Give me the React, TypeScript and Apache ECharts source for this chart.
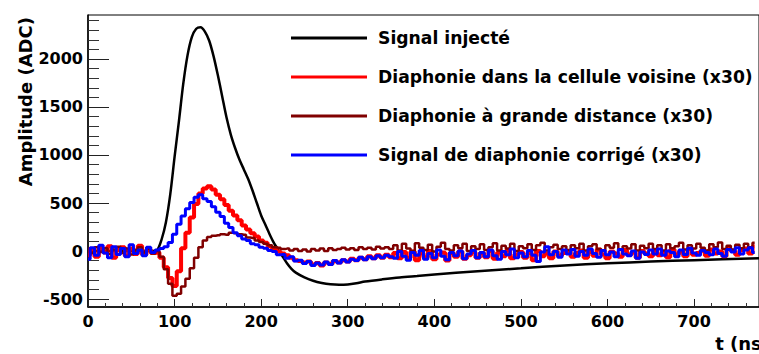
import React, { useEffect, useRef } from "react";
import * as echarts from "echarts";

// ---- data ----
const seriesNames = [
  "Signal injecté",
  "Diaphonie dans la cellule voisine (x30)",
  "Diaphonie à grande distance (x30)",
  "Signal de diaphonie corrigé (x30)",
];

// Injected signal: sample time (ns) and amplitude (ADC)
const blackT = [0, 20, 40, 60, 75, 80, 85, 90, 95, 100, 105, 110, 115, 120, 125, 130, 135, 140, 145, 150, 155, 160, 165, 170, 175, 180, 185, 190, 195, 200, 205, 210, 215, 220, 225, 230, 235, 240, 250, 260, 270, 280, 290, 300, 310, 320, 340, 360, 380, 400, 450, 500, 550, 600, 650, 700, 775];
const blackV = [0, 0, 0, 0, 0, 10, 120, 300, 590, 980, 1350, 1740, 2040, 2230, 2315, 2330, 2285, 2190, 2030, 1830, 1610, 1390, 1210, 1070, 950, 850, 750, 630, 500, 370, 270, 170, 80, 10, -60, -130, -185, -225, -275, -310, -333, -347, -352, -348, -335, -318, -295, -275, -260, -245, -210, -180, -150, -128, -110, -95, -75];

// Noisy series sampled every 5 ns starting at t = 0
const sampleStepNs = 5;
const redV = [
  -45, 20, -60, 35, -15, 50, -70, 10, 40, -50, 25, -30, 55, -40, 15, -20,
  -15, -70, -170, -280, -365, -210, 30, 190, 350, 490, 600, 650, 675, 640, 585, 540, 480, 420, 370, 320, 265, 225, 185, 150, 110, 85, 50, 25, -5, -25, -45, -70, -95, -105, -120, -110, -140, -125, -150, -120, -135, -105, -120, -95, -110, -80, -95, -70, -85, -55, -75, -45, -70, -40, -65,
  -20, -75, -10, -70, -5, -95, -25, -65, 0, -85, -35, -15, -100, -20, -60, -5, -80, -45, -10, -70,
  -20, -65, 0, -80, -15, -55, 5, -75, -35, -10, -70, -20, -95, 0, -55, -25, -75, -5, -50, -20,
  0, -60, -20, 5, -70, -10, -50, 15, -35, -75, -5, -25, -60, 10, -40, -15, -70, 0, -25, -55,
  5, -45, -10, -65, 15, -35, -5, -55, 20, -40, -20, 5, -50, 15, -25, -5, -55, 20, 0, -40,
  10, 25, -25, 50,
];
const darkRedV = [
  25, -20, 40, -10, 30, -30, 15, 45, -20, 25, -35, 10, 40, -15, 20, -25,
  0, -60, -190, -340, -465, -445, -370, -290, -180, -70, 40, 110, 145, 160, 165, 175, 170, 190, 185, 175, 170, 140, 135, 110, 95, 75, 60, 40, 35, 20, 25, 5, 20, 0, 15, -5, 20, 5, 25, 0, 30, 10, 20, 35, 15, 30, 10, 40, 20, 35, 15, 45, 25, 40, 20,
  60, 5, 75, 25, 0, 80, 35, 10, 65, -5, 45, 85, 20, 5, 60, 30, 75, 0, 50, 20,
  70, 10, 40, 80, 5, 55, 25, 75, 0, 50, 30, 70, 10, 60, 85, 5, 40, 65, 20, 50,
  10, 60, 30, 75, 5, 50, 70, 20, 0, 60, 35, 80, 15, 50, 25, 70, 5, 55, 30, 75,
  20, 60, 5, 70, 30, 50, 85, 15, 60, 25, 75, 35, 5, 70, 40, 90, 20, 55, 15, 65,
  30, 75, 40, 85,
];
const blueV = [
  -85, 35, -45, 60, -20, -70, 45, -35, 25, -60, 65, -25, 10, -50, 40, -15,
  10, 25, 45, 90, 175, 280, 365, 440, 505, 560, 585, 545, 515, 460, 405, 360, 290, 245, 190, 160, 125, 110, 75, 65, 40, 30, 5, -5, -40, -35, -75, -60, -105, -95, -130, -110, -150, -125, -145, -115, -140, -100, -125, -90, -115, -85, -100, -65, -90, -60, -80, -50, -70, -45, -60,
  -75, -5, -55, -95, -15, -45, 5, -85, -25, -70, 10, -55, -90, -15, -50, 0, -80, -30, 5, -70,
  -15, -60, 10, -50, -85, -5, -40, 20, -70, -20, -60, 5, -45, -110, -10, 45, -40, -5, -65, 10,
  -30, 15, -55, -5, -45, 20, -25, -65, 5, -40, -10, -60, 15, -30, -50, 0, -75, -10, -35, 10,
  -30, 20, -45, 0, -15, -60, 10, -35, 30, -20, -45, 5, -15, -40, 20, -25, -55, 15, -10, 35,
  -30, 10, 35, -15,
];

// Axis ticks
const xMajorTicks = [0, 100, 200, 300, 400, 500, 600, 700];
const xMinorTicks = [20, 40, 60, 80, 120, 140, 160, 180, 220, 240, 260, 280, 320, 340, 360, 380, 420, 440, 460, 480, 520, 540, 560, 580, 620, 640, 660, 680, 720, 740, 760];
const yMajorTicks = [-500, 0, 500, 1000, 1500, 2000];
const yMinorTicks = [-400, -300, -200, -100, 100, 200, 300, 400, 600, 700, 800, 900, 1100, 1200, 1300, 1400, 1600, 1700, 1800, 1900, 2100, 2200, 2300, 2400];
const xRange = [0, 775];
const yRange = [-583, 2458];

const FONT = "DejaVu Sans";

export default function App() {
  const ref = useRef<HTMLDivElement>(null);
  useEffect(() => {
    if (!ref.current) return;
    const chart = echarts.init(ref.current, undefined, { renderer: "svg" });
    const toPairs = (vals: number[]) => vals.map((v, i) => [i * sampleStepNs, v]);
    const labelStyle = {
      fontFamily: FONT, fontWeight: "bold" as const, fontSize: 16, color: "#000",
      formatter: (v: number) => String(v),
    };
    const colors = ["#000000", "#ff0000", "#800000", "#0000ff"];
    chart.setOption({
      animation: false,
      backgroundColor: "#fff",
      grid: { left: 88, top: 15, bottom: 47, right: -19, show: true, borderColor: "#000", borderWidth: 1 },
      xAxis: [
        {
          type: "value", min: xRange[0], max: xRange[1], position: "bottom",
          axisLine: { show: true, onZero: false, lineStyle: { color: "#000", width: 1.5 } },
          axisTick: { show: true, inside: true, length: 8, customValues: xMajorTicks, lineStyle: { color: "#222", width: 1 } },
          axisLabel: { customValues: xMajorTicks, margin: 6, ...labelStyle },
          splitLine: { show: false },
        },
        {
          type: "value", min: xRange[0], max: xRange[1], position: "bottom",
          axisLine: { show: false, onZero: false },
          axisTick: { show: true, inside: true, length: 4, customValues: xMinorTicks, lineStyle: { color: "#333", width: 1 } },
          axisLabel: { show: false },
          splitLine: { show: false },
        },
      ],
      yAxis: [
        {
          type: "value", min: yRange[0], max: yRange[1], position: "left",
          axisLine: { show: true, onZero: false, lineStyle: { color: "#000", width: 1.5 } },
          axisTick: { show: true, inside: true, length: 21, customValues: yMajorTicks, lineStyle: { color: "#222", width: 1 } },
          axisLabel: { customValues: yMajorTicks, margin: 5, ...labelStyle },
          splitLine: { show: false },
        },
        {
          type: "value", min: yRange[0], max: yRange[1], position: "left",
          axisLine: { show: false, onZero: false },
          axisTick: { show: true, inside: true, length: 11, customValues: yMinorTicks, lineStyle: { color: "#333", width: 1 } },
          axisLabel: { show: false },
          splitLine: { show: false },
        },
      ],
      legend: {
        orient: "vertical", left: 286, top: 23, itemWidth: 76, itemHeight: 3, itemGap: 19,
        icon: "rect",
        textStyle: { fontFamily: FONT, fontWeight: "bold", fontSize: 17.2, color: "#000", lineHeight: 20, padding: [0, 0, 0, 6] },
        data: seriesNames,
      },
      graphic: [
        {
          type: "text", x: 25, y: 17, rotation: Math.PI / 2,
          style: { text: "Amplitude (ADC)", align: "right", verticalAlign: "middle", fontFamily: FONT, fontWeight: "bold", fontSize: 18, fill: "#000" },
        },
        {
          type: "text", x: 770, y: 343,
          style: { text: "t (ns)", align: "right", verticalAlign: "middle", fontFamily: FONT, fontWeight: "bold", fontSize: 18, fill: "#000" },
        },
      ],
      series: [
        {
          name: seriesNames[0], type: "line", showSymbol: false, smooth: 0.3, color: colors[0],
          lineStyle: { width: 2.5, color: colors[0] },
          data: blackT.map((t, i) => [t, blackV[i]]),
        },
        {
          name: seriesNames[1], type: "line", showSymbol: false, step: "middle", color: colors[1],
          lineStyle: { width: 4, color: colors[1] },
          data: toPairs(redV),
        },
        {
          name: seriesNames[2], type: "line", showSymbol: false, step: "middle", color: colors[2],
          lineStyle: { width: 2.5, color: colors[2] },
          data: toPairs(darkRedV),
        },
        {
          name: seriesNames[3], type: "line", showSymbol: false, step: "middle", color: colors[3],
          lineStyle: { width: 3, color: colors[3] },
          data: toPairs(blueV),
        },
      ],
    });
    return () => chart.dispose();
  }, []);
  return <div ref={ref} style={{ position: "fixed", left: 0, top: 0, width: 759, height: 354 }} />;
}
